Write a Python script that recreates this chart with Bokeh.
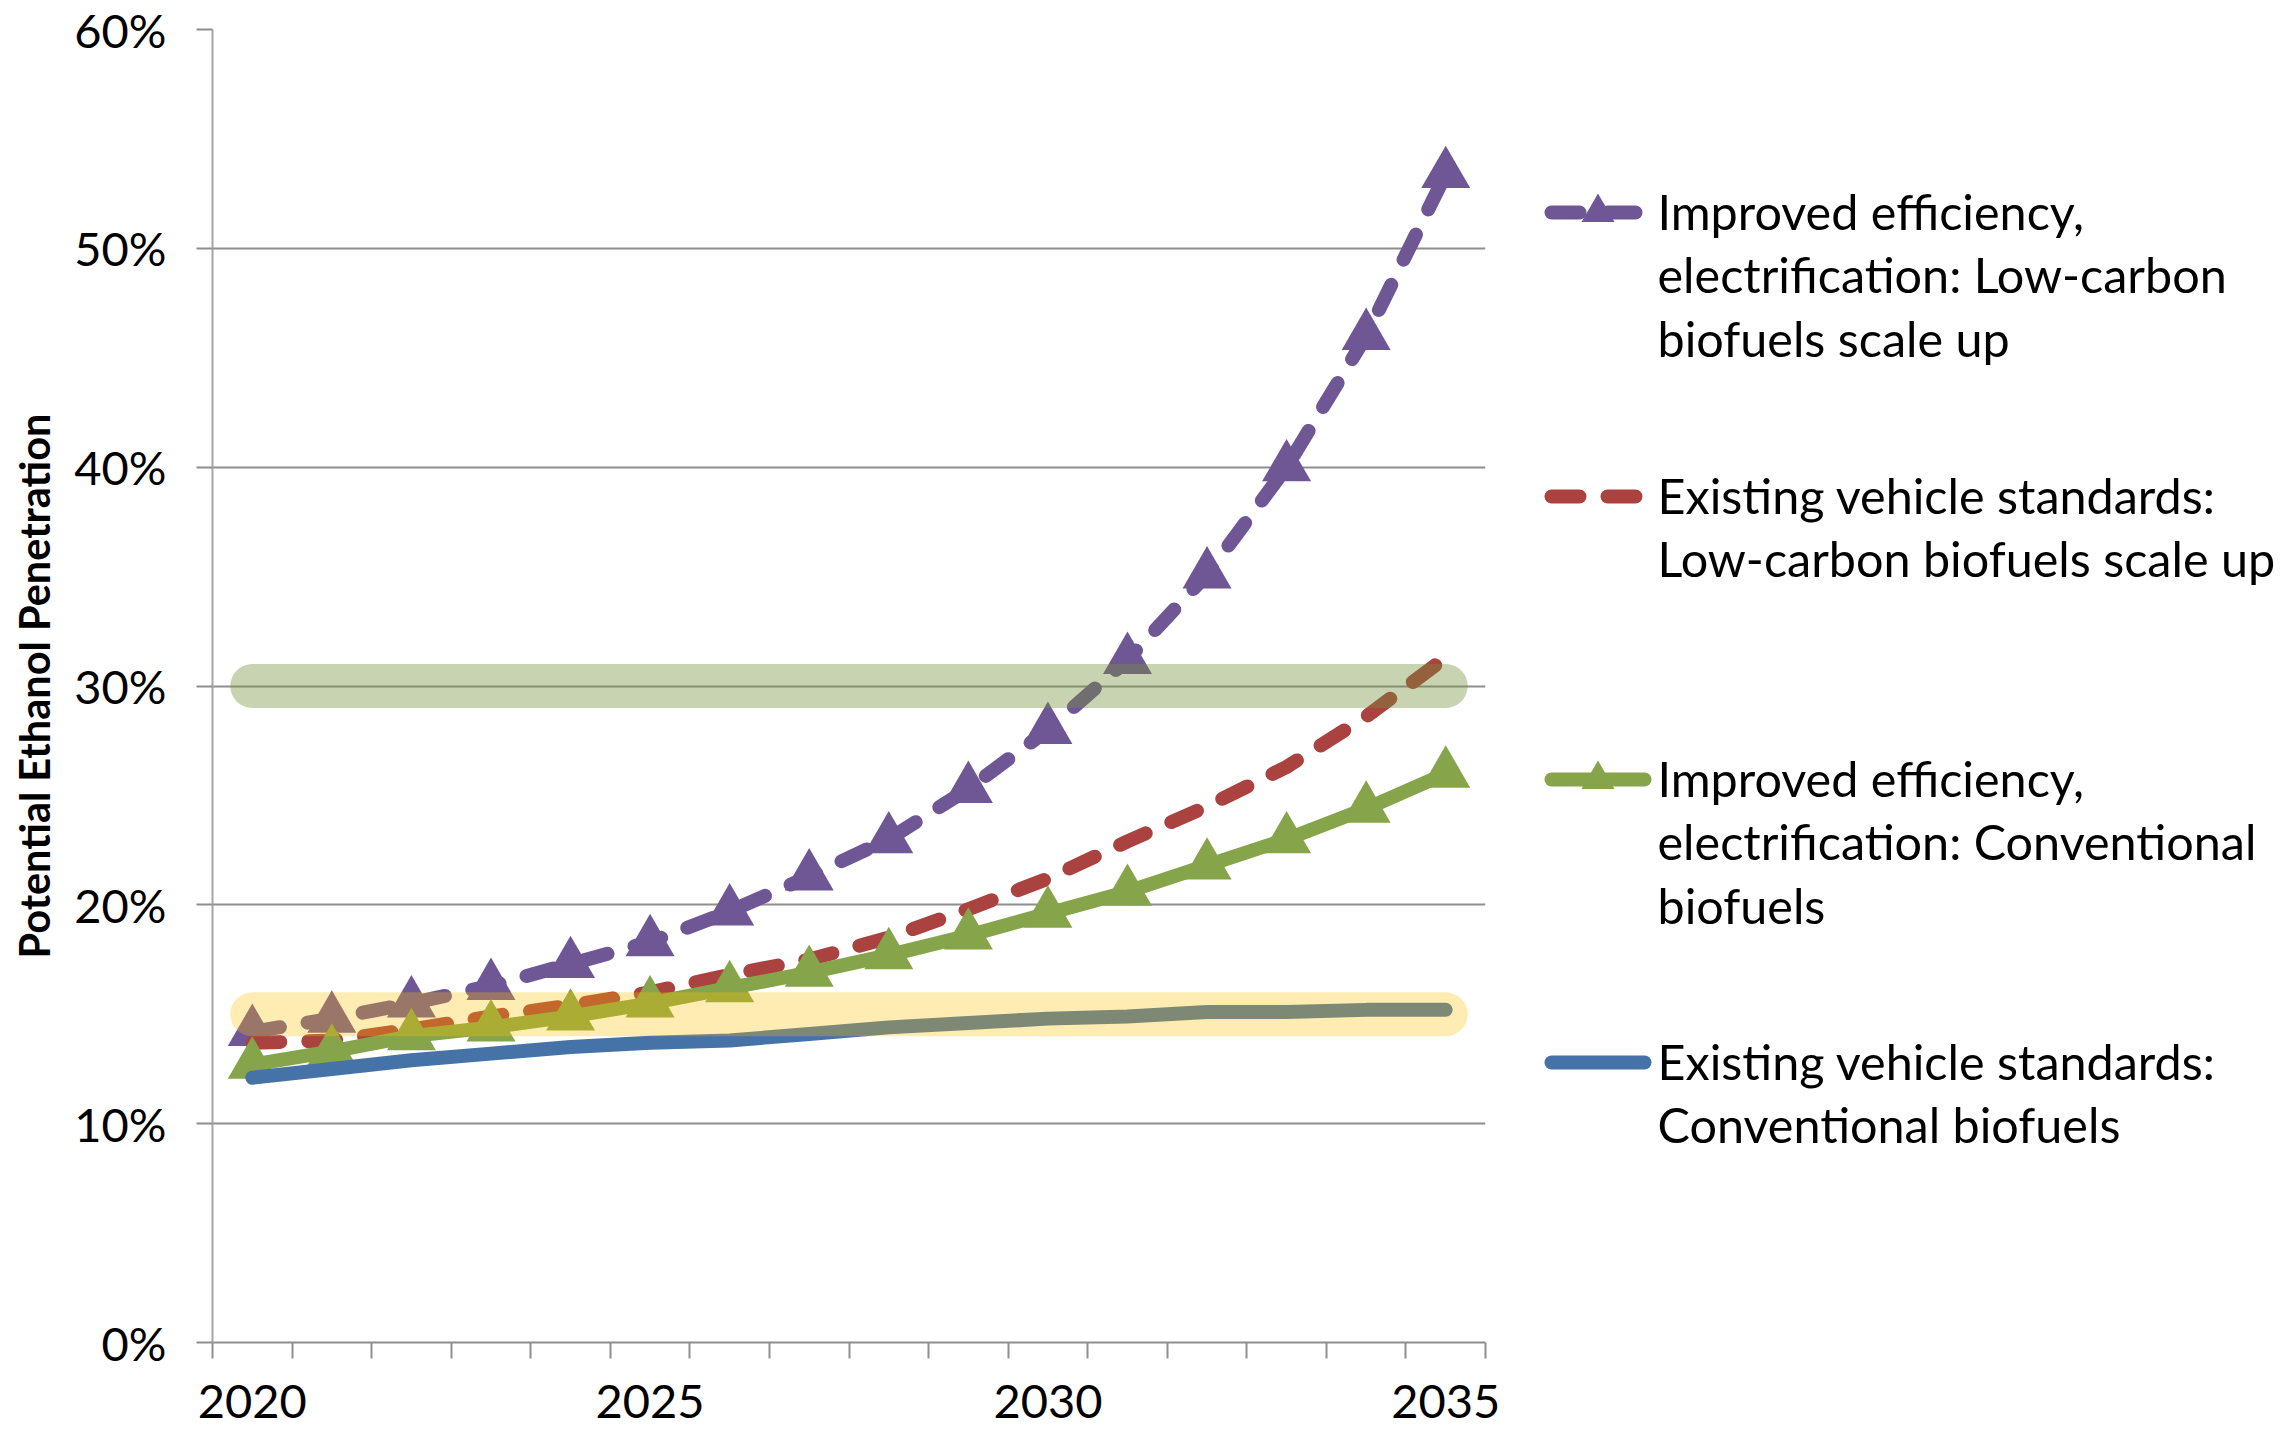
from bokeh.plotting import figure
from bokeh.models import Range1d, FixedTicker, NumeralTickFormatter
from bokeh.layouts import row
from bokeh.embed import file_html
from bokeh.resources import INLINE
from bokeh.core.properties import value

# ---- data (percent of fuel pool) ----
years = list(range(2020, 2036))
eff_lowcarbon = [14.2, 14.8, 15.5, 16.3, 17.3, 18.3, 19.7, 21.3, 23.0, 25.3, 28.0, 31.2, 35.1, 40.0, 46.0, 53.4]
std_lowcarbon = [13.7, 13.8, 14.3, 14.9, 15.4, 16.0, 16.8, 17.5, 18.5, 19.8, 21.2, 22.9, 24.5, 26.3, 28.6, 31.3]
eff_conventional = [12.7, 13.3, 14.0, 14.4, 14.9, 15.5, 16.2, 16.9, 17.7, 18.6, 19.6, 20.6, 21.8, 23.0, 24.4, 26.0]
std_conventional = [12.1, 12.5, 12.9, 13.2, 13.5, 13.7, 13.8, 14.1, 14.4, 14.6, 14.8, 14.9, 15.1, 15.1, 15.2, 15.2]
blend_levels = [15, 30]          # highlighted blend limits
y_ticks = [0, 10, 20, 30, 40, 50, 60]
year_labels = [2020, 2025, 2030, 2035]

legend_labels = [
    ["Improved efficiency,", "electrification: Low-carbon", "biofuels scale up"],
    ["Existing vehicle standards:", "Low-carbon biofuels scale up"],
    ["Improved efficiency,", "electrification: Conventional", "biofuels"],
    ["Existing vehicle standards:", "Conventional biofuels"],
]

# ---- styling ----
PURPLE = "#6F5795"
RED = "#AA423F"
GREEN = "#86A44A"
BLUE = "#4572A7"
BAND_COLORS = {15: ("#FFC000", 0.30), 30: ("#76923C", 0.40)}
GRID = "#8E8E8E"
FONT = "Lato"
LW = 14
DASH = "28 28"
TRI = 49

W_MAIN, W_LEG, H = 1505, 777, 1431
BORDER_TOP, BORDER_BOTTOM = 29, 89


def frac(vals):
    return [v / 100.0 for v in vals]


p = figure(width=W_MAIN, height=H, x_range=Range1d(2019.5, 2035.5), y_range=Range1d(0, 0.6),
           output_backend="svg", toolbar_location=None,
           min_border_left=212, min_border_right=20,
           min_border_top=BORDER_TOP, min_border_bottom=BORDER_BOTTOM)
p.outline_line_color = None
p.background_fill_color = "white"
p.border_fill_color = "white"

# series, bottom layer first
p.line(years, frac(eff_lowcarbon), line_color=PURPLE, line_width=LW, line_dash=DASH,
       line_cap="round", line_join="round")
p.scatter(years, frac(eff_lowcarbon), marker="triangle", size=TRI, fill_color=PURPLE, line_color=None)
p.line(years, frac(std_lowcarbon), line_color=RED, line_width=LW, line_dash=DASH,
       line_cap="round", line_join="round")
p.line(years, frac(eff_conventional), line_color=GREEN, line_width=LW, line_cap="round", line_join="round")
p.scatter(years, frac(eff_conventional), marker="triangle", size=TRI, fill_color=GREEN, line_color=None)
p.line(years, frac(std_conventional), line_color=BLUE, line_width=LW, line_cap="round", line_join="round")

# translucent highlight bands over the series
for lvl in blend_levels:
    col, alpha = BAND_COLORS[lvl]
    p.line([years[0], years[-1]], [lvl / 100.0] * 2, line_color=col, line_alpha=alpha,
           line_width=44, line_cap="round")

# axes
xa = p.xaxis[0]
xa.ticker = FixedTicker(ticks=year_labels, minor_ticks=[y - 0.5 for y in years] + [years[-1] + 0.5])
xa.major_tick_line_color = None
xa.minor_tick_out = 16
xa.minor_tick_in = 0
xa.minor_tick_line_color = GRID
xa.minor_tick_line_width = 2
xa.axis_line_color = GRID
xa.axis_line_width = 2
xa.major_label_text_font = FONT
xa.major_label_text_font_size = "47px"
xa.major_label_text_color = "black"
xa.major_label_standoff = 26

ya = p.yaxis[0]
ya.ticker = FixedTicker(ticks=frac(y_ticks), minor_ticks=[])
ya.formatter = NumeralTickFormatter(format="0%")
ya.major_tick_out = 16
ya.major_tick_in = 0
ya.major_tick_line_color = GRID
ya.major_tick_line_width = 2
ya.axis_line_color = "#A6A6A6"
ya.axis_line_width = 2
ya.major_label_text_font = FONT
ya.major_label_text_font_size = "47px"
ya.major_label_text_color = "black"
ya.major_label_standoff = 30
ya.axis_label = "Potential Ethanol Penetration"
ya.axis_label_text_font = FONT
ya.axis_label_text_font_style = "bold"
ya.axis_label_text_font_size = "41.5px"
ya.axis_label_text_color = "black"
ya.axis_label_standoff = 12

p.xgrid.grid_line_color = None
p.ygrid.ticker = FixedTicker(ticks=frac(y_ticks), minor_ticks=[])
p.ygrid.grid_line_color = GRID
p.ygrid.grid_line_width = 2

# ---- legend panel (ranges chosen so one unit is one page pixel) ----
leg = figure(width=W_LEG, height=H,
             x_range=Range1d(W_MAIN, W_MAIN + W_LEG),
             y_range=Range1d(H - BORDER_BOTTOM, BORDER_TOP),
             output_backend="svg", toolbar_location=None, x_axis_type=None, y_axis_type=None,
             min_border_left=0, min_border_right=0,
             min_border_top=BORDER_TOP, min_border_bottom=BORDER_BOTTOM)
leg.outline_line_color = None
leg.grid.visible = False

styles = [
    (PURPLE, DASH, True),
    (RED, DASH, False),
    (GREEN, "solid", True),
    (BLUE, "solid", False),
]
sample_ys = [212, 496, 779, 1062]
line_step = 63.5
sx0, sx1, tx = 1551, 1644, 1657

for (col, dash, has_marker), labels, ly in zip(styles, legend_labels, sample_ys):
    leg.line([sx0, sx1], [ly, ly], line_color=col, line_width=LW, line_dash=dash, line_cap="round")
    if has_marker:
        leg.scatter([(sx0 + sx1) / 2], [ly], marker="triangle", size=33, fill_color=col, line_color=None)
    leg.text(x=[tx] * len(labels), y=[ly - 2 + i * line_step for i in range(len(labels))], text=labels,
             text_font=value(FONT), text_font_size="48.5px", text_baseline="alphabetic",
             text_align="left", text_color="black")

layout = row(p, leg, spacing=0)
open("out.html", "w").write(file_html(layout, INLINE))
